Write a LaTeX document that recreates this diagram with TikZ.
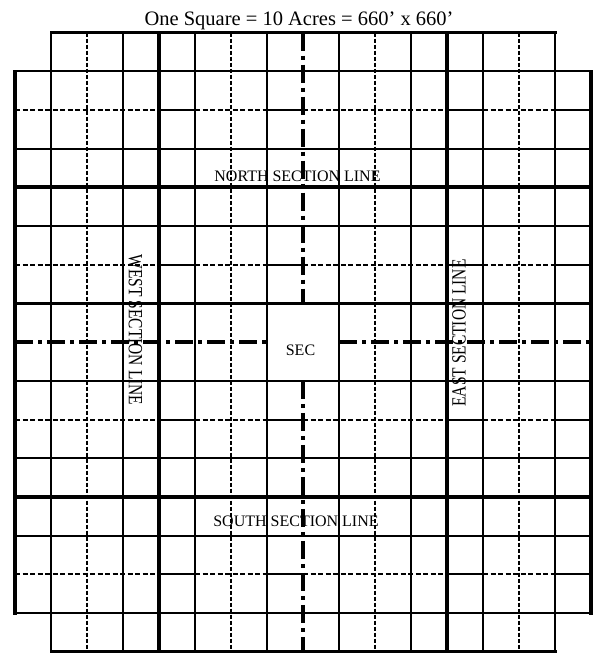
\documentclass[tikz,border=0pt]{standalone}
\usepackage{fontspec}
\setmainfont{Liberation Serif}
\tikzset{
  thinline/.style={line width=2.2pt, draw=black},
  edgeline/.style={line width=3pt, draw=black, line cap=rect},
  borderline/.style={line width=3.5pt, draw=black, line cap=rect},
  sectionline/.style={line width=4pt, draw=black},
  quarterline/.style={line width=3.5pt, draw=black, dash pattern=on 18pt off 5pt on 4pt off 5pt},
  dottedline/.style={line width=2.2pt, draw=black, dash pattern=on 4pt off 2pt},
  dashline/.style={line width=2.2pt, draw=black, dash pattern=on 5pt off 2.5pt},
  linelabel/.style={font=\fontsize{16}{18}\selectfont, inner sep=0pt},
  sidelabel/.style={font=\fontsize{15.5}{17}\selectfont, inner sep=0pt}
}
\newcommand{\cx}[1]{15+36*(#1)}
\newcommand{\cy}[1]{32.7+38.69*(#1)}

\begin{document}
\begin{tikzpicture}[x=1pt, y=-1pt]
\useasboundingbox (0,0) rectangle (593,653);

\node[anchor=base, font=\fontsize{20.5}{22}\selectfont, inner sep=0pt] (title) at (299,25) {One Square = 10 Acres = 660’ x 660’};

% plain grid lines
\foreach \i in {1,3,5,7,9,11,13,15}
  \draw[thinline] ({\cx{\i}},{\cy{0}}) -- ({\cx{\i}},{\cy{16}});
\foreach \j in {1,3,5,7,9,11,13,15}
  \draw[thinline] ({\cx{0}},{\cy{\j}}) -- ({\cx{16}},{\cy{\j}});

% 40 acre lines
\foreach \i in {2,6,10,14}
  \draw[dottedline] ({\cx{\i}},{\cy{0}}) -- ({\cx{\i}},{\cy{16}});
\foreach \j in {2,6,10,14} {
  \foreach \a/\b in {0/4,5/7,8/12,13/15}
    \draw[dashline] ({\cx{\a}},{\cy{\j}}) -- ({\cx{\b}},{\cy{\j}});
  \foreach \a in {4,7,12,15}
    \draw[thinline] ({\cx{\a}},{\cy{\j}}) -- ({\cx{\a+1}},{\cy{\j}});
}

% quarter lines
\draw[quarterline] ({\cx{8}},{\cy{0}}) -- ({\cx{8}},{\cy{7}});
\draw[quarterline] ({\cx{8}},{\cy{9}}) -- ({\cx{8}},{\cy{16}});
\draw[quarterline] ({\cx{0}},{\cy{8}}) -- ({\cx{7}},{\cy{8}});
\draw[quarterline] ({\cx{9}},{\cy{8}}) -- ({\cx{16}},{\cy{8}});

% section lines
\foreach \k in {4,12} {
  \draw[sectionline] ({\cx{\k}},{\cy{0}}) -- ({\cx{\k}},{\cy{16}});
  \draw[sectionline] ({\cx{0}},{\cy{\k}}) -- ({\cx{16}},{\cy{\k}});
}

% outline
\draw[edgeline] ({\cx{1}},{\cy{0}}) -- ({\cx{15}},{\cy{0}});
\draw[edgeline] ({\cx{1}},{\cy{16}}) -- ({\cx{15}},{\cy{16}});
\draw[borderline] ({\cx{0}},{\cy{1}}) -- ({\cx{0}},{\cy{15}});
\draw[borderline] ({\cx{16}},{\cy{1}}) -- ({\cx{16}},{\cy{15}});

\node[linelabel] (north) at (297.5,176) {NORTH SECTION LINE};
\node[linelabel] (south) at (296,521) {SOUTH SECTION LINE};
\node[linelabel] (sec) at (300.5,350.5) {SEC};
\node[sidelabel, rotate=-90] (west) at (135.5,330) {\scalebox{1}[1.3]{WEST SECTION LINE}};
\node[sidelabel, rotate=90] (east) at (459,333) {\scalebox{1}[1.3]{EAST SECTION LINE}};

\end{tikzpicture}
\end{document}
